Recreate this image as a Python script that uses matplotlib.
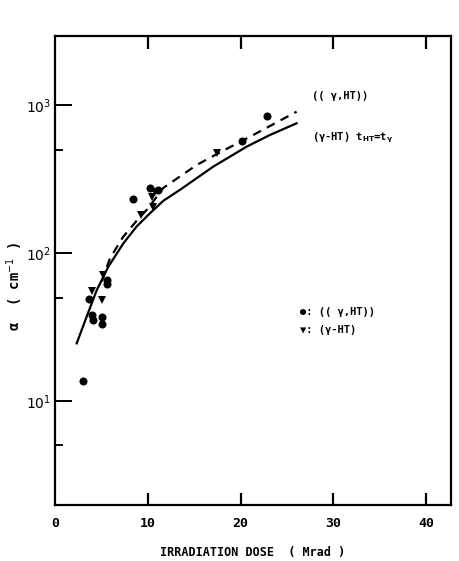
import matplotlib
matplotlib.use('Agg')
import matplotlib.pyplot as plt
import numpy as np

# points (dose in Mrad, alpha in cm^-1)
circ_dose = [3.0, 3.64, 3.93, 4.1, 5.0, 5.0, 5.55, 5.6, 8.35, 10.2, 11.1, 20.2, 22.8]
circ_alpha = [13.7, 49, 38, 35, 37, 33, 66, 62, 231, 274, 267, 571, 843]

tri_dose = [3.93, 5.07, 5.18, 9.3, 10.4, 10.57, 10.75, 17.4]
tri_alpha = [55, 48, 71, 181, 240, 206, 258, 472]

# solid curve: (gamma-HT) t_HT = t_gamma
solid_dose = [2.31, 3.39, 4.47, 5.72, 7.34, 8.78, 10.2, 11.65, 13.45, 17.04, 20.65, 23.16, 26.04]
solid_alpha = [24.5, 37.2, 56, 80.7, 116, 151, 185, 225, 267, 383, 523, 627, 752]

# dashed curve: ((gamma,HT))
dash_dose = [5.0, 5.9, 7.34, 8.78, 10.0, 11.65, 15.25, 17.6, 21.36, 26.04]
dash_alpha = [64, 92, 129, 165, 200, 275, 393, 472, 627, 901]

major_y = [10, 100, 1000]
minor_y = [5, 50, 500]
x_ticks = [10, 20, 30, 40]
x_labels = ['0', '10', '20', '30', '40']

mono = {'family': 'DejaVu Sans Mono', 'weight': 'bold'}

fig = plt.figure(figsize=(4.6, 5.61), dpi=100)
ax = fig.add_axes([0.1202, 0.0998, 0.8602, 0.836])

ax.plot(solid_dose, solid_alpha, color='black', lw=1.6)
ax.plot(dash_dose, dash_alpha, color='black', lw=1.6, ls=(0, (4, 3)))
ax.plot(circ_dose, circ_alpha, 'o', color='black', ms=5.8, mew=0)
ax.plot(tri_dose, tri_alpha, 'v', color='black', ms=5.5, mew=0)

ax.set_yscale('log')
ax.set_xlim(0, 42.7)
ax.set_ylim(1.98, 2925)

for s in ax.spines.values():
    s.set_linewidth(1.6)

ax.set_xticks(x_ticks)
ax.set_xticklabels([])
ax.tick_params(axis='x', which='major', direction='in', length=9, width=1.6,
               top=True, bottom=True)
for x, lab in zip([0] + x_ticks, x_labels):
    ax.text(x, -0.026, lab, transform=ax.get_xaxis_transform(),
            ha='center', va='top', fontsize=9.5, **mono)

ax.set_yticks(major_y)
ax.set_yticklabels([r'$\mathit{10^{%d}}$' % int(np.log10(v)) for v in major_y],
                   fontsize=10, family='DejaVu Serif')
ax.set_yticks(minor_y, minor=True)
ax.set_yticklabels([], minor=True)
ax.tick_params(axis='y', which='major', direction='in', length=12, width=1.4, pad=3)
ax.tick_params(axis='y', which='minor', direction='in', length=6, width=1.4)

ax.annotate('(( γ,HT))', xy=(0.648, 0.872), xycoords='axes fraction',
            fontsize=7.5, va='center', ha='left', **mono)
ax.annotate(r'(γ-HT) t$_{\mathbf{HT}}$=t$_{\mathbf{γ}}$', xy=(0.648, 0.783),
            xycoords='axes fraction', fontsize=7.5, va='center', ha='left', **mono)
ax.annotate('●: (( γ,HT))', xy=(0.618, 0.411), xycoords='axes fraction',
            fontsize=7.5, va='center', ha='left', **mono)
ax.annotate('▼: (γ-HT)', xy=(0.618, 0.373), xycoords='axes fraction',
            fontsize=7.5, va='center', ha='left', **mono)

fig.text(0.032, 0.49, r'α  ( cm$^{-1}$ )', rotation=90, ha='center', va='center',
         fontsize=10, **mono)
fig.text(0.55, 0.016, 'IRRADIATION DOSE  ( Mrad )', ha='center', va='center',
         fontsize=8.5, **mono)

fig.savefig('out.png', dpi=100)
